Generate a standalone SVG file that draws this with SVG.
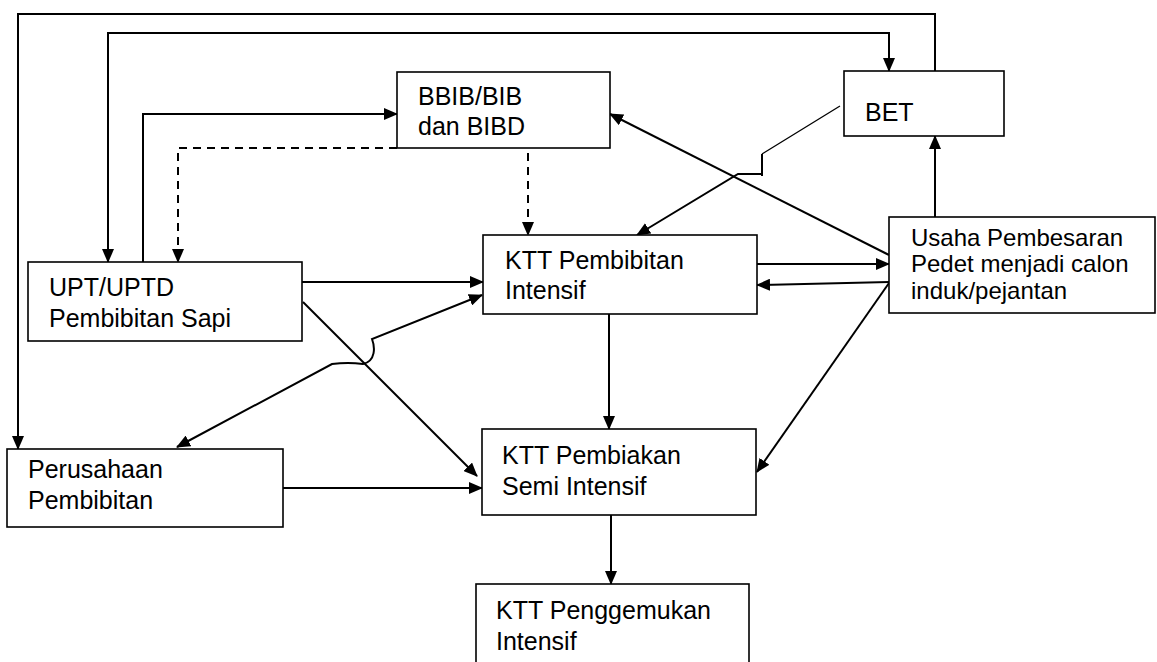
<svg xmlns="http://www.w3.org/2000/svg" width="1157" height="662" viewBox="0 0 1157 662">
<defs>
<style>
.box{fill:#fff;stroke:#000;stroke-width:1.6}
.t{font-family:"Liberation Sans",Arial,sans-serif;font-size:25px;fill:#000}
.s{font-size:24px}
.c{fill:none;stroke:#000;stroke-width:2}
.thin{fill:none;stroke:#000;stroke-width:1.3}
.d{fill:none;stroke:#000;stroke-width:2;stroke-dasharray:8,6}
</style>
<marker id="ah" markerUnits="userSpaceOnUse" markerWidth="14" markerHeight="12" refX="13" refY="6" orient="auto-start-reverse" viewBox="0 0 14 12">
<path d="M0,0 L14,6 L0,12 z" fill="#000"/>
</marker>
</defs>
<rect width="1157" height="662" fill="#fff"/>
<g id="connectors">
<path class="c" d="M935,71 V14 H18 V449" marker-end="url(#ah)"/>
<path class="c" d="M108,262 V33 H889 V71" marker-start="url(#ah)" marker-end="url(#ah)"/>
<path class="c" d="M143,262 V114 H397" marker-end="url(#ah)"/>
<path class="d" d="M397,148 H178 V262" marker-end="url(#ah)"/>
<path class="d" d="M528,153 V235" marker-end="url(#ah)"/>
<path class="thin" d="M840,106 L762,154"/>
<path class="c" d="M762,154 V176 M762,174 H738 L637,235" marker-end="url(#ah)"/>
<path class="c" d="M889,255 L610,114" marker-end="url(#ah)"/>
<path class="c" d="M302,282 H483" marker-end="url(#ah)"/>
<path class="c" d="M177,447 L332,364 Q348,362 363,364 C376,361 375,347 372,339 L482,295" marker-start="url(#ah)" marker-end="url(#ah)"/>
<path class="c" d="M303,302 L477,476" marker-end="url(#ah)"/>
<path class="c" d="M283,488 H482" marker-end="url(#ah)"/>
<path class="c" d="M609,314 V429" marker-end="url(#ah)"/>
<path class="c" d="M611,515 V584" marker-end="url(#ah)"/>
<path class="c" d="M757,264 H889" marker-end="url(#ah)"/>
<path class="c" d="M889,282 L757,285" marker-end="url(#ah)"/>
<path class="c" d="M889,283 L757,472" marker-end="url(#ah)"/>
<path class="c" d="M935,217 V136" marker-end="url(#ah)"/>
</g>
<g id="bbib">
<rect class="box" x="397" y="72" width="213" height="76"/>
<text class="t" x="418" y="105">BBIB/BIB</text>
<text class="t" x="418" y="135">dan BIBD</text>
</g>
<g id="bet">
<rect class="box" x="844" y="71" width="160" height="65"/>
<text class="t" x="865" y="121">BET</text>
</g>
<g id="ktt-pembibitan">
<rect class="box" x="483" y="235" width="274" height="79"/>
<text class="t" x="505" y="269">KTT Pembibitan</text>
<text class="t" x="505" y="299">Intensif</text>
</g>
<g id="upt">
<rect class="box" x="28" y="262" width="274" height="79"/>
<text class="t" x="49" y="296">UPT/UPTD</text>
<text class="t" x="49" y="327">Pembibitan Sapi</text>
</g>
<g id="usaha">
<rect class="box" x="889" y="217" width="266" height="96"/>
<text class="t s" x="911" y="246">Usaha Pembesaran</text>
<text class="t s" x="911" y="272">Pedet menjadi calon</text>
<text class="t s" x="911" y="299">induk/pejantan</text>
</g>
<g id="perusahaan">
<rect class="box" x="7" y="449" width="276" height="78"/>
<text class="t" x="28" y="478">Perusahaan</text>
<text class="t" x="28" y="509">Pembibitan</text>
</g>
<g id="ktt-pembiakan">
<rect class="box" x="482" y="429" width="274" height="86"/>
<text class="t" x="502" y="464">KTT Pembiakan</text>
<text class="t" x="502" y="495">Semi Intensif</text>
</g>
<g id="ktt-penggemukan">
<rect class="box" x="476" y="584" width="273" height="100"/>
<text class="t" x="496" y="619">KTT Penggemukan</text>
<text class="t" x="496" y="650">Intensif</text>
</g>
</svg>
